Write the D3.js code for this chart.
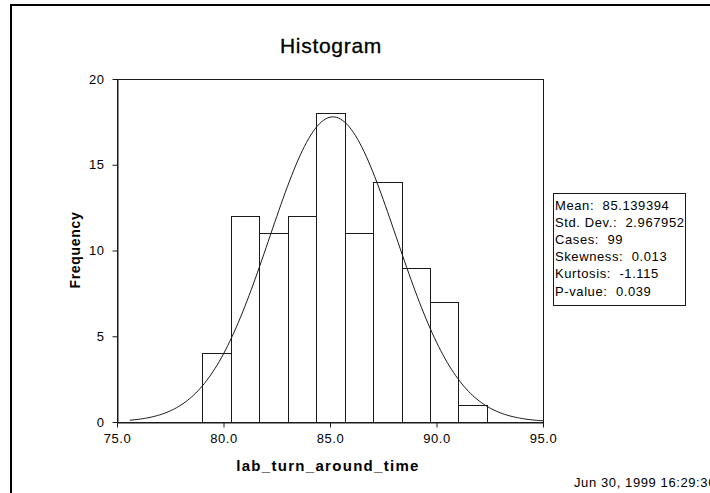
<!DOCTYPE html>
<html>
<head>
<meta charset="utf-8">
<script src="https://cdn.jsdelivr.net/npm/d3@7"></script>
<style>
  html, body { margin: 0; padding: 0; background: #fff; }
  svg { display: block; }
  text { font-family: "Liberation Sans", Arial, sans-serif; fill: #000; }
</style>
</head>
<body>
<svg id="chart" width="710" height="493"></svg>
<script>
// ---- data ----
const binEdges = [79.0, 80.34, 81.67, 83.01, 84.35, 85.69, 87.02, 88.36, 89.70, 91.03, 92.37];
const counts   = [4, 12, 11, 12, 18, 11, 14, 9, 7, 1];
const xTicks   = [75, 80, 85, 90, 95];
const yTicks   = [0, 5, 10, 15, 20];
const statLabels = ["Mean:", "Std. Dev.:", "Cases:", "Skewness:", "Kurtosis:", "P-value:"];
const statValues = ["85.139394", "2.967952", "99", "0.013", "-1.115", "0.039"];
const fitMean = 85.139394, fitSd = 2.967952, fitCases = 99;
const curveRange = [75.6, 95.0];
const titleText = "Histogram";
const xTitle = "lab_turn_around_time";
const yTitle = "Frequency";
const stamp = "Jun 30, 1999 16:29:30";

// ---- layout ----
const svg = d3.select("#chart");
const L = 117, R = 543, T = 79, B = 422;
const x = d3.scaleLinear().domain([75, 95]).range([L, R]);
const y = d3.scaleLinear().domain([0, 20]).range([B, T]);
const ink = "#1a1a1a";

// outer frame (left + top only visible)
svg.append("path").attr("d", "M11,493V5H710")
  .attr("fill", "none").attr("stroke", "#000").attr("stroke-width", 2);

// title
svg.append("text").attr("x", 331).attr("y", 53).attr("text-anchor", "middle")
  .style("font-size", "21px").style("letter-spacing", "0.7px")
  .style("stroke", "#000").style("stroke-width", "0.3px").text(titleText);

// plot frame
svg.append("rect").attr("x", L + 0.5).attr("y", T + 0.5)
  .attr("width", R - L).attr("height", B - T)
  .attr("fill", "none").attr("stroke", ink).attr("stroke-width", 1);

// bars
const bins = counts.map((c, i) => ({ x0: binEdges[i], x1: binEdges[i + 1], c }));
svg.append("g").selectAll("rect").data(bins).join("rect")
  .attr("x", d => Math.round(x(d.x0)) + 0.5)
  .attr("y", d => Math.round(y(d.c)) + 0.5)
  .attr("width", d => Math.round(x(d.x1)) - Math.round(x(d.x0)))
  .attr("height", d => Math.round(y(0)) - Math.round(y(d.c)))
  .attr("fill", "none").attr("stroke", ink).attr("stroke-width", 1);

// normal fit curve
const bw = (binEdges[binEdges.length - 1] - binEdges[0]) / counts.length;
const pts = d3.range(curveRange[0], curveRange[1] + 1e-9, 0.1).map(v => {
  const z = (v - fitMean) / fitSd;
  return [v, fitCases * bw * Math.exp(-0.5 * z * z) / (fitSd * Math.sqrt(2 * Math.PI))];
});
svg.append("path").datum(pts)
  .attr("d", d3.line().x(d => x(d[0])).y(d => y(d[1])))
  .attr("fill", "none").attr("stroke", ink).attr("stroke-width", 1);

// x axis
const xAxis = svg.append("g").attr("transform", `translate(0,${B + 0.5})`)
  .call(d3.axisBottom(x).tickValues(xTicks).tickFormat(d3.format(".1f")).tickSize(5).tickPadding(6));
xAxis.select(".domain").attr("stroke", ink).attr("d", `M${L},0.5H${R + 1}`);
xAxis.selectAll(".tick line").attr("stroke", ink);
xAxis.selectAll("text").style("font-size", "13px").style("letter-spacing", "0.5px")
  .style("font-family", "'Liberation Sans', Arial, sans-serif").attr("fill", "#000");

// y axis
const yAxis = svg.append("g").attr("transform", `translate(${L + 0.5},0)`)
  .call(d3.axisLeft(y).tickValues(yTicks).tickSize(5).tickPadding(8));
yAxis.select(".domain").attr("stroke", ink).attr("d", `M0.5,${T}V${B + 1}`);
yAxis.selectAll(".tick line").attr("stroke", ink);
yAxis.selectAll("text").style("font-size", "13px").style("letter-spacing", "0.5px")
  .style("font-family", "'Liberation Sans', Arial, sans-serif").attr("fill", "#000");

// axis titles
svg.append("text").attr("x", 328).attr("y", 471).attr("text-anchor", "middle")
  .style("font-size", "15px").style("font-weight", "bold").style("letter-spacing", "1.3px")
  .text(xTitle);
svg.append("text").attr("transform", "translate(80,250) rotate(-90)").attr("text-anchor", "middle")
  .style("font-size", "14px").style("font-weight", "bold").style("letter-spacing", "0.7px")
  .text(yTitle);

// stats box
svg.append("rect").attr("x", 553.5).attr("y", 193.5).attr("width", 132).attr("height", 112)
  .attr("fill", "#fff").attr("stroke", ink).attr("stroke-width", 1);
svg.append("g").selectAll("text").data(statLabels).join("text")
  .attr("x", 555).attr("y", (d, i) => 209.5 + i * 17.2)
  .style("font-size", "13px").style("letter-spacing", "0.6px")
  .text((d, i) => d + "\u00a0\u00a0" + statValues[i]);

// timestamp
svg.append("text").attr("x", 574).attr("y", 487)
  .style("font-size", "13px").style("letter-spacing", "0.6px").text(stamp);
</script>
</body>
</html>
